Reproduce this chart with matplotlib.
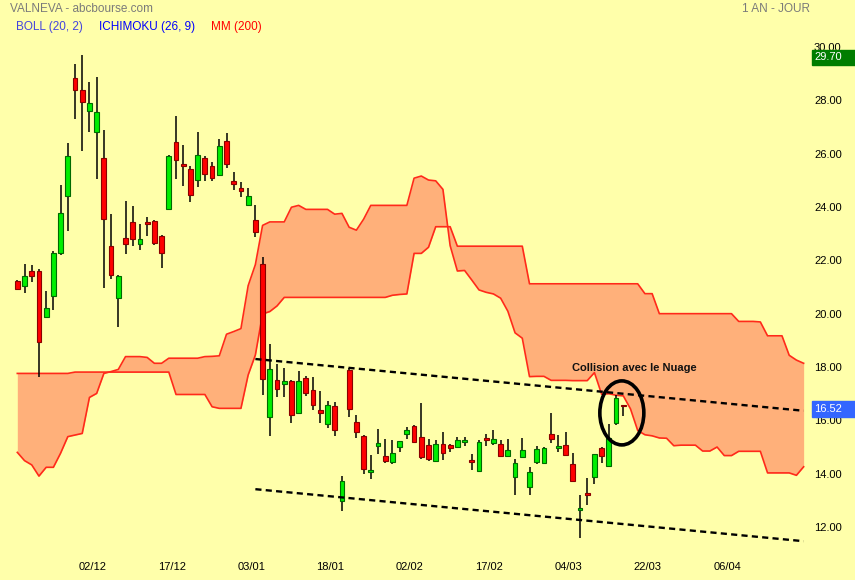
import numpy as np
import matplotlib.pyplot as plt
from matplotlib.patches import Ellipse, Rectangle
from matplotlib.transforms import blended_transform_factory, ScaledTranslation

plt.rcParams['font.family'] = ['Liberation Sans', 'DejaVu Sans']

# -----------------------------
# DATA (daily candles, x = trading day index)
# -----------------------------
opens = [21.21, 21.03, 21.60, 21.59, 19.89, 20.67, 22.26, 24.40, 28.83, 28.38,
         27.59, 26.80, 25.83, 22.53, 20.58, 22.83, 23.43, 22.60, 23.43, 23.47,
         22.90, 23.91, 26.43, 25.56, 25.41, 25.00, 25.83, 25.53, 25.19, 26.46,
         24.96, 24.70, 24.06, 23.50, 21.85, 16.14, 17.51, 17.35, 17.46, 16.27,
         17.58, 17.13, 16.38, 15.85, 16.53, 12.99, 17.89, 15.94, 15.40, 14.05,
         15.03, 14.65, 14.43, 14.99, 15.48, 15.78, 15.37, 15.07, 14.46, 15.10,
         15.07, 15.01, 15.20, 14.48, 14.11, 15.33, 15.16, 15.10, 14.68, 13.86,
         14.62, 13.51, 14.43, 14.40, 15.48, 14.95, 15.07, 14.36, 12.63, 13.23,
         13.87, 14.95, 14.28, 15.89, 16.53]
highs = [21.26, 21.86, 21.83, 21.66, 20.85, 22.35, 24.83, 26.40, 29.36, 29.70,
         28.68, 28.88, 26.89, 23.74, 21.45, 24.21, 24.03, 23.35, 23.61, 23.50,
         22.95, 25.95, 27.40, 26.31, 25.53, 26.80, 25.90, 25.68, 26.54, 26.76,
         25.30, 24.93, 24.70, 24.06, 22.11, 18.85, 18.10, 17.95, 17.50, 17.85,
         17.65, 17.62, 17.09, 16.72, 16.68, 13.91, 17.96, 16.20, 15.45, 14.70,
         15.67, 15.29, 15.25, 15.21, 15.74, 15.81, 16.65, 15.29, 15.25, 15.55,
         15.10, 15.37, 15.37, 14.73, 15.25, 15.48, 15.63, 15.25, 15.29, 14.54,
         15.33, 14.24, 15.03, 14.99, 16.29, 15.44, 15.55, 14.77, 13.19, 13.83,
         14.73, 14.99, 15.85, 16.94, 16.53]
lows = [20.91, 20.76, 21.18, 17.62, 19.85, 20.15, 22.20, 23.11, 27.31, 26.11,
        26.82, 25.06, 20.97, 21.31, 19.49, 22.23, 22.53, 22.38, 22.90, 22.56,
        21.70, 23.88, 25.04, 24.78, 24.18, 24.74, 24.96, 24.96, 25.15, 25.45,
        24.63, 24.36, 24.02, 22.86, 16.95, 15.43, 16.89, 16.89, 15.89, 16.23,
        16.90, 16.38, 15.89, 15.70, 15.40, 12.61, 16.14, 15.35, 14.00, 13.81,
        14.73, 14.39, 14.35, 14.80, 15.31, 15.18, 14.54, 14.46, 14.46, 14.50,
        14.80, 14.98, 15.05, 14.15, 14.08, 15.03, 15.09, 14.62, 14.65, 13.21,
        14.60, 13.21, 14.35, 14.35, 15.14, 14.80, 14.65, 13.70, 11.58, 12.82,
        13.60, 14.39, 14.24, 15.82, 16.15]
closes = [20.91, 21.40, 21.40, 18.95, 20.20, 22.26, 23.76, 25.90, 28.38, 27.93,
          27.89, 27.55, 23.54, 21.44, 21.40, 22.60, 22.79, 22.79, 23.35, 22.64,
          22.26, 25.90, 25.75, 25.53, 24.44, 25.94, 25.23, 25.08, 26.28, 25.60,
          24.85, 24.59, 24.40, 23.05, 17.54, 17.91, 17.16, 17.46, 16.19, 17.46,
          17.02, 16.57, 16.27, 16.57, 15.63, 13.72, 16.44, 15.58, 14.17, 14.13,
          15.14, 14.49, 14.76, 15.21, 15.63, 15.18, 14.62, 14.54, 15.10, 14.77,
          14.96, 15.25, 15.25, 14.43, 15.18, 15.26, 15.29, 14.65, 14.88, 14.40,
          14.88, 14.05, 14.92, 14.95, 15.29, 15.03, 14.69, 13.72, 12.67, 13.19,
          14.73, 14.65, 15.33, 16.83, 16.52]

# ichimoku cloud (senkou spans, projected 26 days ahead)
span_a = [14.80, 14.49, 14.33, 13.91, 14.24, 14.24, 14.77, 15.39, 15.45, 15.51,
          16.86, 17.01, 17.76, 17.83, 17.91, 18.39, 18.39, 18.39, 18.36, 18.14,
          18.14, 18.33, 18.33, 18.33, 18.33, 18.33, 18.39, 18.40, 18.42, 19.23,
          19.33, 19.44, 21.05, 21.84, 23.31, 23.44, 23.44, 23.44, 23.99, 24.06,
          23.91, 23.91, 23.91, 23.91, 23.73, 23.76, 23.24, 23.13, 23.54, 24.06,
          24.06, 24.06, 24.06, 24.06, 24.06, 25.08, 25.16, 25.01, 24.98, 24.66,
          22.55, 21.60, 21.62, 21.26, 20.89, 20.80, 20.74, 20.58, 20.09, 19.28,
          19.08, 17.64, 17.65, 17.65, 17.50, 17.50, 17.50, 17.49, 17.49, 17.49,
          17.79, 16.98, 17.00, 16.94, 16.92, 16.43, 15.62, 15.46, 15.42, 15.34,
          15.33, 15.05, 15.07, 15.07, 15.07, 14.85, 14.85, 15.00, 14.68, 14.68,
          14.84, 14.84, 14.84, 14.84, 14.03, 14.03, 14.03, 14.03, 13.94, 14.26]
span_b = [17.76, 17.76, 17.76, 17.76, 17.76, 17.76, 17.76, 17.76, 17.81, 17.81,
          17.81, 17.81, 17.81, 17.81, 17.81, 17.81, 17.81, 17.81, 17.81, 17.81,
          17.81, 17.81, 16.97, 16.97, 16.97, 16.97, 16.97, 16.51, 16.45, 16.45,
          16.45, 16.45, 17.70, 18.45, 19.99, 20.08, 20.29, 20.61, 20.61, 20.61,
          20.61, 20.61, 20.61, 20.61, 20.61, 20.61, 20.61, 20.61, 20.61, 20.61,
          20.61, 20.61, 20.69, 20.72, 20.74, 22.26, 22.26, 22.49, 23.26, 23.26,
          23.26, 22.53, 22.53, 22.53, 22.53, 22.53, 22.53, 22.53, 22.53, 22.53,
          22.53, 21.12, 21.12, 21.12, 21.12, 21.12, 21.12, 21.12, 21.12, 21.12,
          21.12, 21.12, 21.12, 21.12, 21.12, 21.12, 21.12, 20.75, 20.75, 20.00,
          20.00, 20.00, 20.00, 20.00, 20.00, 20.00, 20.00, 20.00, 20.00, 20.00,
          19.71, 19.71, 19.71, 19.69, 19.17, 19.17, 19.17, 18.44, 18.26, 18.14]

date_pos = [10, 21, 32, 43, 54, 65, 76, 87, 98]
date_labels = ["02/12", "17/12", "03/01", "18/01", "02/02", "17/02", "04/03", "22/03", "06/04"]
price_ticks = [12, 14, 16, 18, 20, 22, 24, 26, 28, 30]

# hand drawn channel + annotation
upper_trend_x = [33, 109]
upper_trend_y = [18.30, 16.36]
lower_trend_x = [33, 109]
lower_trend_y = [13.42, 11.47]
circle_x, circle_y = 83.8, 16.28

last_price = 16.52
max_price = 29.70

BG = "#ffffaa"

# -----------------------------
# FIGURE
# -----------------------------
fig = plt.figure(figsize=(8.55, 5.8), dpi=100, facecolor=BG)
ax = fig.add_axes([0, 30 / 580, 805 / 855, 510 / 580])
ax.set_facecolor(BG)
for s in ax.spines.values():
    s.set_visible(False)

# cloud
ci = np.arange(len(span_a))
ax.fill_between(ci, span_a, span_b, color="#ffb07a", lw=0, zorder=1)
ax.plot(ci, span_a, color="#ff2a1a", lw=1.2, zorder=2)
ax.plot(ci, span_b, color="#ff2a1a", lw=1.2, zorder=2)

# candles
idx = np.arange(len(closes))
o = np.array(opens)
c = np.array(closes)
up = c >= o
body_lo = np.minimum(o, c)
body_h = np.maximum(np.abs(c - o), 0.07)
ax.vlines(idx, lows, highs, color="black", lw=1.1, zorder=3)
ax.bar(idx[up], body_h[up], bottom=body_lo[up], width=0.66,
       color="#00ee00", edgecolor="#006a00", lw=0.8, zorder=4)
ax.bar(idx[~up], body_h[~up], bottom=body_lo[~up], width=0.66,
       color="#ff0000", edgecolor="#8a0000", lw=0.8, zorder=4)

# channel lines
ax.plot(upper_trend_x, upper_trend_y, color="black", lw=1.7, dashes=(2.6, 1.8), zorder=5)
ax.plot(lower_trend_x, lower_trend_y, color="black", lw=1.7, dashes=(2.6, 1.8), zorder=5)

ax.add_patch(Ellipse((circle_x, circle_y), width=6.1, height=2.4,
                     fill=False, ec="black", lw=2.6, zorder=6))
ax.text(76.9, 17.96, "Collision avec le Nuage", fontsize=8, fontweight="bold",
        color="#111111", ha="left", va="center", zorder=7)

# axes
ax.set_xlim(-2.4, 109.19)
ax.set_ylim(11.14, 30.26)

ax.set_xticks(date_pos)
ax.set_xticklabels(date_labels)
ax.tick_params(axis="x", length=0, pad=9, labelsize=8)
for lbl in ax.get_xticklabels():
    lbl.set_transform(lbl.get_transform() + ScaledTranslation(3 / 100, 0, fig.dpi_scale_trans))

ax.yaxis.tick_right()
ax.set_yticks(price_ticks)
ax.set_yticklabels([f"{v:.2f}" for v in price_ticks])
ax.tick_params(axis="y", length=0, pad=6.5, labelsize=8)

# price boxes on the right
blend = blended_transform_factory(ax.transAxes, ax.transData)
for val, col in [(max_price, "#007d00"), (last_price, "#3366ff")]:
    ax.add_patch(Rectangle((812 / 805, val - 0.38), 43 / 805, 0.58, transform=blend,
                           color=col, clip_on=False, zorder=8))
    ax.text(814 / 805, val - 0.09, f"{val:.2f}", transform=blend, color="white",
            fontsize=8, ha="left", va="center", clip_on=False, zorder=9)

# header
fig.text(10 / 855, 1 - 9 / 580, "VALNEVA - abcbourse.com", color="#7a7a7a",
         fontsize=8.5, ha="left", va="center")
fig.text(810 / 855, 1 - 9 / 580, "1 AN - JOUR", color="#7a7a7a",
         fontsize=8.5, ha="right", va="center")
fig.text(16 / 855, 1 - 27 / 580, "BOLL (20, 2)", color="#4444dd", fontsize=8.5, va="center")
fig.text(99 / 855, 1 - 27 / 580, "ICHIMOKU (26, 9)", color="#0000ff", fontsize=8.5, va="center")
fig.text(211 / 855, 1 - 27 / 580, "MM (200)", color="#ff0000", fontsize=8.5, va="center")

fig.savefig("out.png", dpi=100, facecolor=BG)
